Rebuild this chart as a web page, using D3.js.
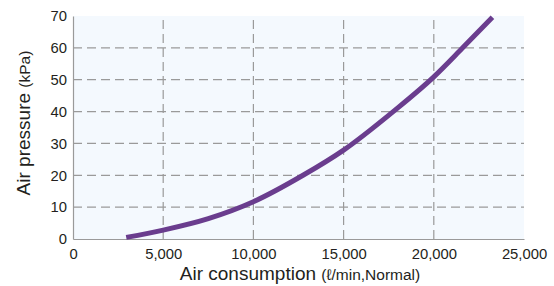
<!DOCTYPE html>
<html><head><meta charset="utf-8">
<script src="https://cdn.jsdelivr.net/npm/d3@7"></script>
<style>body{margin:0;background:#fff}svg{display:block;font-family:"Liberation Sans",Arial,sans-serif}</style>
</head><body>
<script>
const flowValues = [2950, 5000, 7500, 10000, 12750, 15000, 17750, 20000, 21600, 23250];
const pressureValues = [0.5, 2.8, 6.4, 11.7, 20, 27.9, 40, 50.9, 60, 69.6];
const xTicks = [0, 5000, 10000, 15000, 20000, 25000];
const yTicks = [0, 10, 20, 30, 40, 50, 60, 70];

const W = 554, H = 286;
const m = {l: 73, r: 30, t: 16, b: 47};
const svg = d3.select("body").append("svg").attr("width", W).attr("height", H);
const x = d3.scaleLinear().domain([0, 25000]).range([m.l, W - m.r]);
const y = d3.scaleLinear().domain([0, 70]).range([H - m.b, m.t]);

svg.append("rect").attr("x", x(0)).attr("y", y(70)).attr("width", x(25000) - x(0)).attr("height", y(0) - y(70)).attr("fill", "#f4f9fe");

const gridStyle = g => g.attr("stroke", "#9a9a9a").attr("stroke-width", 1.2).attr("stroke-dasharray", "9,5");
svg.append("g").selectAll("line").data(yTicks.filter(d => d > 0 && d < 70)).join("line")
  .attr("x1", x(0)).attr("x2", x(25000)).attr("y1", d => y(d)).attr("y2", d => y(d)).call(gridStyle);
svg.append("g").selectAll("line").data(xTicks.filter(d => d > 0 && d < 25000)).join("line")
  .attr("y1", y(0)).attr("y2", y(70)).attr("x1", d => x(d)).attr("x2", d => x(d)).call(gridStyle);

const fmt = d3.format(",");
const xAxis = svg.append("g").attr("transform", `translate(0,${y(0)})`)
  .call(d3.axisBottom(x).tickValues(xTicks).tickFormat(fmt).tickSize(0).tickPadding(9));
const yAxis = svg.append("g").attr("transform", `translate(${x(0)},0)`)
  .call(d3.axisLeft(y).tickValues(yTicks).tickSize(0).tickPadding(6));
[xAxis, yAxis].forEach(a => {
  a.select(".domain").attr("stroke", "#9a9a9a").attr("stroke-width", 1.2);
  a.selectAll("text").attr("font-size", 14.8).attr("fill", "#231f20").attr("font-family", "Liberation Sans, Arial, sans-serif");
});

const pts = flowValues.map((v, i) => [v, pressureValues[i]]);
svg.append("path").datum(pts)
  .attr("d", d3.line().x(d => x(d[0])).y(d => y(d[1])).curve(d3.curveMonotoneX))
  .attr("fill", "none").attr("stroke", "#6a3d8e").attr("stroke-width", 5);

const xt = svg.append("text").attr("x", 300).attr("y", 280).attr("text-anchor", "middle").attr("fill", "#231f20");
xt.append("tspan").attr("font-size", 19).text("Air consumption ");
xt.append("tspan").attr("font-size", 15.5).text("(ℓ/min,Normal)");

const yt = svg.append("text").attr("transform", "translate(30,123) rotate(-90)").attr("text-anchor", "middle").attr("fill", "#231f20");
yt.append("tspan").attr("font-size", 19).text("Air pressure ");
yt.append("tspan").attr("font-size", 15.5).text("(kPa)");
</script>
</body></html>
